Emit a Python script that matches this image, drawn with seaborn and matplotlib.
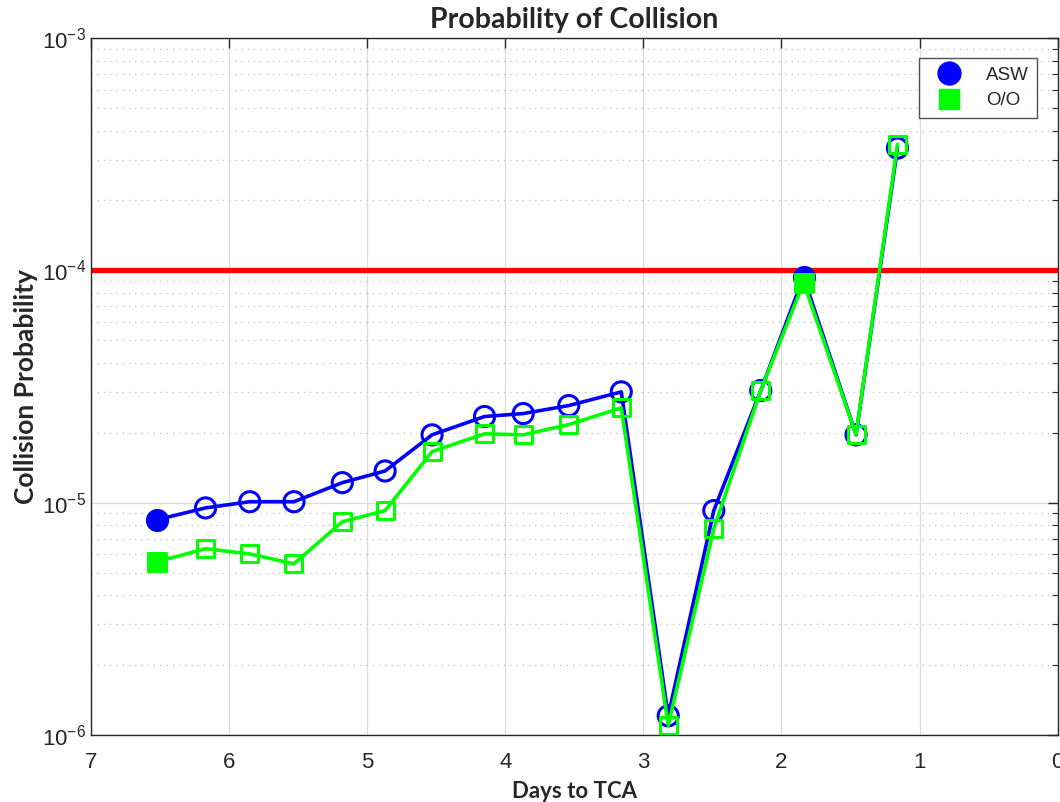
import numpy as np
import pandas as pd
import matplotlib
matplotlib.use("Agg")
import matplotlib.pyplot as plt
import seaborn as sns
from matplotlib.lines import Line2D
from matplotlib.ticker import LogLocator, LogFormatterSciNotation, NullFormatter

days = [6.52, 6.17, 5.85, 5.53, 5.18, 4.87, 4.53, 4.15, 3.87, 3.54, 3.16,
        2.82, 2.49, 2.15, 1.84, 1.46, 1.16]
asw = [8.45e-6, 9.5e-6, 1.01e-5, 1.01e-5, 1.22e-5, 1.37e-5, 1.96e-5, 2.35e-5,
       2.42e-5, 2.62e-5, 3.0e-5, 1.21e-6, 9.25e-6, 3.04e-5, 9.4e-5, 1.96e-5, 3.36e-4]
oo = [5.57e-6, 6.34e-6, 6.02e-6, 5.46e-6, 8.28e-6, 9.25e-6, 1.66e-5, 1.98e-5,
      1.96e-5, 2.17e-5, 2.56e-5, 1.10e-6, 7.73e-6, 3.04e-5, 8.87e-5, 1.96e-5, 3.49e-4]
filled_idx = [0, 14]
threshold = 1e-4
series_names = ["ASW", "O/O"]
x_ticks = [7, 6, 5, 4, 3, 2, 1, 0]

sns.set_style("white")
plt.rcParams['font.family'] = ['Liberation Sans', 'DejaVu Sans']
plt.rcParams['axes.unicode_minus'] = False
plt.rcParams['mathtext.fontset'] = 'custom'
plt.rcParams['mathtext.rm'] = 'Liberation Sans'
plt.rcParams['mathtext.it'] = 'Liberation Sans'

df = pd.DataFrame({"days": days, "ASW": asw, "O/O": oo})
df["filled"] = [i in filled_idx for i in range(len(days))]

fig = plt.figure(figsize=(10.6, 8.02), dpi=100)
ax = fig.add_axes([0.0858, 0.0835, 0.912, 0.869])

colors = {"ASW": "#0000ff", "O/O": "#00ff00"}
markers = {"ASW": "o", "O/O": "s"}
sizes = {"ASW": 210, "O/O": 150}

ax.axhline(threshold, color="#ff0000", lw=3.8, zorder=2)

for i, name in enumerate(series_names):
    z = 3 + i * 2
    sns.lineplot(data=df, x="days", y=name, ax=ax, color=colors[name], lw=2.6,
                 sort=False, zorder=z, legend=False)
    hol = df[~df["filled"]]
    fil = df[df["filled"]]
    sns.scatterplot(data=hol, x="days", y=name, ax=ax, marker=markers[name],
                    s=sizes[name], facecolor="none", edgecolor=colors[name],
                    linewidth=2.2, zorder=z + 1, legend=False)
    sns.scatterplot(data=fil, x="days", y=name, ax=ax, marker=markers[name],
                    s=sizes[name], color=colors[name], edgecolor=colors[name],
                    linewidth=2.2, zorder=z + 1, legend=False)

ax.set_yscale("log")
ax.set_ylim(1e-6, 1e-3)
ax.set_xlim(7, 0)
ax.set_xticks(x_ticks)
ax.set_xticklabels([str(t) for t in x_ticks])
ax.yaxis.set_major_locator(LogLocator(base=10, numticks=10))
ax.yaxis.set_major_formatter(LogFormatterSciNotation())
ax.yaxis.set_minor_locator(LogLocator(base=10, subs=np.arange(2, 10), numticks=10))
ax.yaxis.set_minor_formatter(NullFormatter())

ax.grid(True, which="major", color="#dcdcdc", lw=0.9, ls="-", zorder=0)
ax.grid(True, which="minor", axis="y", color="#c0c0c0", lw=0.9, ls=(0, (1, 4)), zorder=0)
ax.set_axisbelow(True)

ax.tick_params(axis="both", which="both", direction="in", top=True, right=True,
               labelsize=16, colors="#262626")
ax.tick_params(which="major", length=7, width=1)
ax.tick_params(which="minor", length=4, width=0.8)
ax.tick_params(axis="x", pad=12)
for s in ax.spines.values():
    s.set_color("#262626")
    s.set_linewidth(1.0)
    s.set_visible(True)

ax.set_xlabel("Days to TCA", fontsize=16, fontweight="bold", family=["Lato", "DejaVu Sans"], labelpad=6)
ax.set_ylabel("Collision Probability", fontsize=19, fontweight="bold", family=["Lato", "DejaVu Sans"], labelpad=3)
ax.set_title("Probability of Collision", fontsize=20.5, fontweight="bold", family=["Lato", "DejaVu Sans"], pad=7)

handles = [Line2D([], [], marker=markers[n], color=colors[n], ls="none",
                  markersize=16.5 if n == "ASW" else 14.5) for n in series_names]
leg = ax.legend(handles, series_names, loc="upper right", bbox_to_anchor=(0.979, 0.971),
                fontsize=13.5, frameon=True, fancybox=False, edgecolor="#262626",
                handletextpad=0.9, borderpad=0.45, labelspacing=0.45, handlelength=2.2,
                borderaxespad=0)
leg.get_frame().set_linewidth(1.0)

fig.savefig("out.png", dpi=100)
